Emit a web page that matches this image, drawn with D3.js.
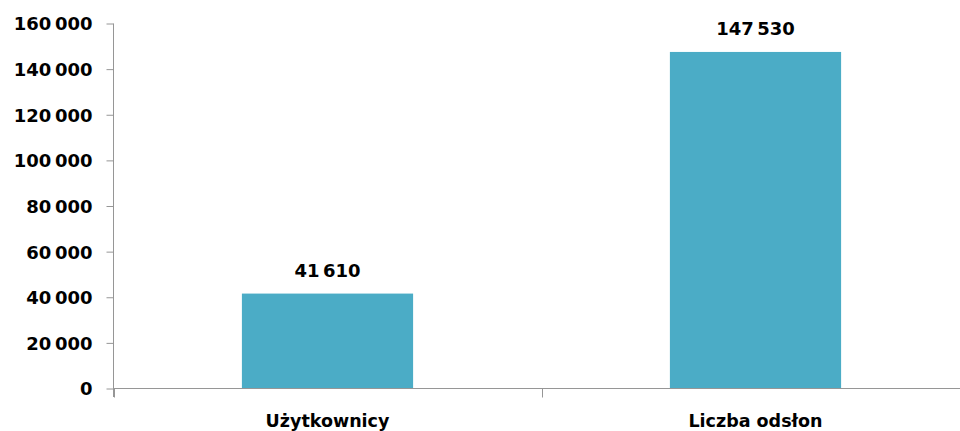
<!DOCTYPE html>
<html><head><meta charset="utf-8">
<script src="https://cdn.jsdelivr.net/npm/d3@7"></script>
<style>
html,body{margin:0;padding:0;background:#fff;overflow:hidden;}
svg{display:block;}
svg text{font-family:"DejaVu Sans",Verdana,sans-serif;font-weight:bold;fill:#000;}
</style></head>
<body>
<svg id="chart" width="960" height="431"></svg>
<script>
const categories = ["Użytkownicy", "Liczba odsłon"];
const values = [41610, 147530];
const yTicks = [0, 20000, 40000, 60000, 80000, 100000, 120000, 140000, 160000];

const svg = d3.select("#chart");
const fmt = d3.formatLocale({decimal: ",", thousands: "\u2009", grouping: [3], currency: ["", ""]}).format(",d");

const x = d3.scaleBand().domain(categories).range([113.5, 969.5]).paddingInner(0.6).paddingOuter(0.3);
const y = d3.scaleLinear().domain([0, 160000]).range([388.5, 23.5]);
const axisColor = "#969696";
const numFs = "18px";
const catFs = "17.5px";

// bars
svg.selectAll("rect.bar").data(values).join("rect")
  .attr("class", "bar")
  .attr("x", (d, i) => x(categories[i]))
  .attr("width", x.bandwidth())
  .attr("y", d => y(d))
  .attr("height", d => y(0) - y(d))
  .attr("fill", "#4BACC6");

// y axis
const yAxis = svg.append("g").attr("transform", "translate(113.5,0)")
  .call(d3.axisLeft(y).tickValues(yTicks).tickFormat(fmt).tickSize(7).tickPadding(14).tickSizeOuter(0));
yAxis.select(".domain").attr("stroke", axisColor).attr("d", `M0,${y(160000)}V397`);
yAxis.selectAll(".tick line").attr("stroke", axisColor);
yAxis.selectAll(".tick text").style("font-size", numFs).attr("dy", "0.36em");

// x axis
const xAxis = svg.append("g").attr("transform", `translate(0,${y(0)})`);
xAxis.append("path").attr("d", `M113.5,0H969.5`).attr("stroke", axisColor).attr("fill", "none");
const boundaries = [113.5, 113.5 + x.step(), 113.5 + 2 * x.step()];
xAxis.selectAll("line.ct").data(boundaries).join("line")
  .attr("class", "ct")
  .attr("x1", d => Math.round(d) + 0.5).attr("x2", d => Math.round(d) + 0.5)
  .attr("y1", 0).attr("y2", 9).attr("stroke", axisColor);
xAxis.selectAll("text.cat").data(categories).join("text")
  .attr("class", "cat")
  .attr("x", d => x(d) + x.bandwidth() / 2)
  .attr("y", 426.5 - y(0))
  .attr("text-anchor", "middle")
  .style("font-size", catFs)
  .text(d => d);

// value labels
svg.selectAll("text.val").data(values).join("text")
  .attr("class", "val")
  .attr("x", (d, i) => x(categories[i]) + x.bandwidth() / 2)
  .attr("y", d => y(d) - 17)
  .attr("text-anchor", "middle")
  .style("font-size", numFs)
  .text(d => fmt(d));
</script>
</body></html>
